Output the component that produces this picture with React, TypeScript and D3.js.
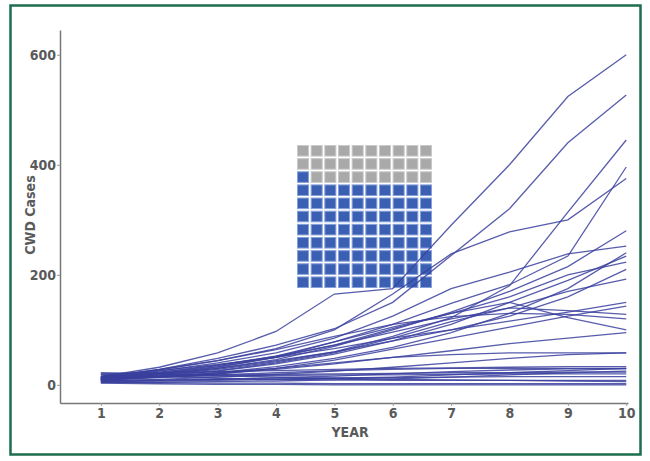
import * as d3 from "d3";
import { useEffect, useRef } from "react";

// simulation years on the x axis
const years = [1, 2, 3, 4, 5, 6, 7, 8, 9, 10];

// CWD cases per simulated herd, one array per run
const runs = [
    [15, 32, 58, 97, 165, 175, 290, 400, 524, 600],
    [12, 28, 48, 72, 102, 150, 235, 320, 440, 527],
    [10, 18, 28, 42, 60, 88, 122, 180, 314, 445],
    [14, 27, 44, 66, 100, 165, 238, 278, 300, 375],
    [11, 20, 32, 50, 78, 110, 148, 182, 234, 396],
    [10, 18, 30, 46, 70, 100, 132, 170, 215, 280],
    [13, 25, 40, 58, 85, 125, 175, 205, 238, 252],
    [9, 16, 25, 38, 56, 80, 110, 150, 190, 234],
    [12, 22, 35, 52, 78, 105, 130, 160, 200, 223],
    [10, 17, 26, 40, 58, 85, 115, 140, 170, 192],
    [8, 13, 20, 30, 45, 65, 85, 105, 125, 143],
    [11, 21, 33, 50, 72, 96, 120, 140, 135, 128],
    [13, 23, 36, 52, 72, 102, 130, 150, 122, 100],
    [9, 14, 20, 28, 38, 50, 62, 75, 85, 95],
    [7, 10, 14, 19, 25, 32, 40, 48, 55, 58],
    [10, 15, 22, 30, 40, 50, 55, 58, 58, 58],
    [6, 8, 10, 13, 16, 20, 24, 27, 29, 29],
    [12, 14, 18, 22, 26, 28, 30, 30, 30, 30],
    [8, 9, 10, 11, 12, 13, 14, 15, 15, 15],
    [14, 15, 16, 17, 18, 18, 19, 20, 20, 20],
    [5, 4, 3, 3, 2, 2, 2, 2, 2, 2],
    [3, 2, 1, 1, 0, 0, 0, 0, 0, 0],
    [18, 15, 12, 10, 9, 8, 8, 8, 8, 8],
    [20, 22, 24, 26, 28, 30, 31, 32, 33, 33],
    [16, 26, 37, 50, 66, 85, 100, 116, 132, 150],
    [12, 20, 30, 44, 60, 80, 100, 125, 160, 210],
    [9, 15, 22, 33, 48, 68, 95, 130, 175, 240],
    [15, 28, 44, 64, 88, 110, 124, 130, 128, 120],
    [22, 20, 17, 14, 12, 10, 9, 8, 7, 6],
    [6, 7, 8, 10, 12, 14, 18, 22, 26, 30],
    [19, 18, 18, 19, 20, 21, 22, 22, 23, 23],
    [4, 5, 6, 7, 9, 11, 14, 18, 22, 25],
];

const yTicks = [0, 200, 400, 600];

// waffle inset: 11 rows x 10 columns, blue cells filled from the bottom up
const waffleRows = 11;
const waffleCols = 10;
const waffleBlue = 81;

const font = "'Liberation Sans Narrow', 'DejaVu Sans Condensed', Arial, sans-serif";

function drawChart(svgEl) {
    const svg = d3.select(svgEl);
    svg.selectAll("*").remove();

    const width = 650, height = 461;

    svg.append("rect")
        .attr("width", width).attr("height", height)
        .attr("fill", "#fff");

    // green frame
    svg.append("rect")
        .attr("x", 10.5).attr("y", 5.5)
        .attr("width", 630).attr("height", 449)
        .attr("fill", "none")
        .attr("stroke", "#1c6d4d")
        .attr("stroke-width", 2.5);

    const scX = d3.scaleLinear().domain([0.3, 10.03]).range([60, 628]);
    const scY = d3.scaleLinear().domain([-33, 645]).range([403, 30]);

    // waffle
    const colBand = d3.scaleBand().domain(d3.range(waffleCols)).range([297, 432]).paddingInner(0.12);
    const rowBand = d3.scaleBand().domain(d3.range(waffleRows)).range([145, 288]).paddingInner(0.12);
    const cells = d3.range(waffleRows * waffleCols).map(i => {
        const rowFromBottom = Math.floor(i / waffleCols);
        return {
            row: waffleRows - 1 - rowFromBottom,
            col: i % waffleCols,
            blue: i < waffleBlue,
        };
    });

    svg.append("g")
        .selectAll("rect")
        .data(cells)
        .enter()
        .append("rect")
        .attr("x", d => colBand(d.col) + 0.5)
        .attr("y", d => rowBand(d.row) + 0.5)
        .attr("width", colBand.bandwidth() - 1)
        .attr("height", rowBand.bandwidth() - 1)
        .attr("fill", d => d.blue ? "#3b5fb3" : "#a9a9a9")
        .attr("stroke", d => d.blue ? "#86a0da" : "#c9c9c9")
        .attr("stroke-width", 1);

    // runs
    const line = d3.line()
        .x((d, i) => scX(years[i]))
        .y(d => scY(d));

    svg.append("g")
        .selectAll("path")
        .data(runs)
        .enter()
        .append("path")
        .attr("d", line)
        .attr("fill", "none")
        .attr("stroke", "#3a3f9e")
        .attr("stroke-opacity", 0.85)
        .attr("stroke-width", 1.3);

    // axes
    const axisX = d3.axisBottom(scX).tickValues(years).tickSize(3).tickSizeOuter(0);
    const axisY = d3.axisLeft(scY).tickValues(yTicks).tickSize(3).tickSizeOuter(0);

    const gx = svg.append("g")
        .attr("transform", "translate(0, 403)")
        .call(axisX);
    gx.select(".domain").attr("stroke", "#777").attr("stroke-width", 1.5);
    gx.selectAll(".tick line").attr("stroke", "#999");
    gx.selectAll("text")
        .attr("y", 5)
        .style("font-family", font)
        .style("font-size", "14px")
        .style("font-weight", "bold")
        .attr("fill", "#5a5a5a");

    const gy = svg.append("g")
        .attr("transform", "translate(60, 0)")
        .call(axisY);
    gy.select(".domain").attr("stroke", "#777").attr("stroke-width", 1.5);
    gy.selectAll(".tick line").attr("stroke", "#999");
    gy.selectAll("text")
        .attr("x", -4)
        .style("font-family", font)
        .style("font-size", "14px")
        .style("font-weight", "bold")
        .attr("fill", "#5a5a5a");

    svg.append("text")
        .attr("x", 350).attr("y", 437)
        .attr("text-anchor", "middle")
        .style("font-family", font)
        .style("font-size", "14px")
        .style("font-weight", "bold")
        .attr("fill", "#5a5a5a")
        .text("YEAR");

    svg.append("text")
        .attr("transform", "translate(35, 215) rotate(-90)")
        .attr("text-anchor", "middle")
        .style("font-family", font)
        .style("font-size", "14px")
        .style("font-weight", "bold")
        .attr("fill", "#5a5a5a")
        .text("CWD Cases");
}

function App() {
    const svgRef = useRef(null);

    useEffect(() => {
        drawChart(svgRef.current);
    }, []);

    return (
        <svg
            ref={svgRef}
            width={650}
            height={461}
            style={{ position: "absolute", left: 0, top: 0, display: "block" }}
        ></svg>
    );
}

export default App;
